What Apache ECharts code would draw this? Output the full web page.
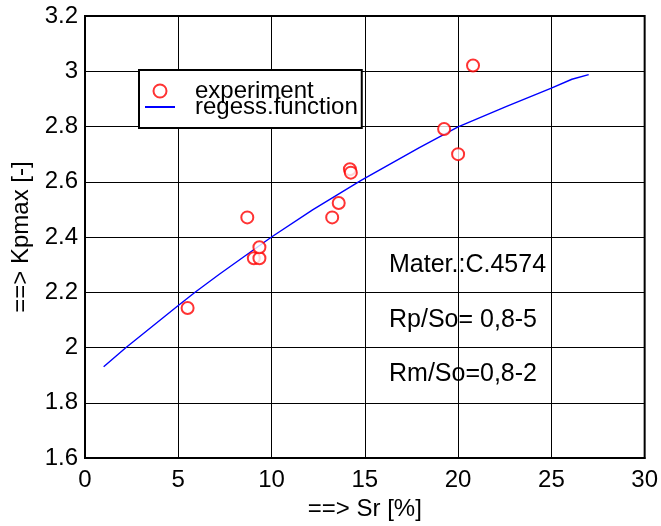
<!DOCTYPE html>
<html>
<head>
<meta charset="utf-8">
<script src="https://cdn.jsdelivr.net/npm/echarts@6/dist/echarts.min.js"></script>
<style>
  html, body { margin: 0; padding: 0; background: #fff; }
  #chart { width: 661px; height: 526px; }
</style>
</head>
<body>
<div id="chart"></div>
<script>
// measured points [Sr %, Kpmax]
var experiment = [
    [5.5, 2.143], [8.7, 2.471], [9.05, 2.323], [9.35, 2.323], [9.35, 2.363],
    [13.25, 2.471], [13.6, 2.523], [14.2, 2.645], [14.25, 2.633],
    [19.25, 2.791], [20.0, 2.70], [20.8, 3.021]
];
// regression curve
var regression = [
    [1.0, 1.930], [2.2, 2.0], [5.0, 2.152], [5.9, 2.2], [7.2, 2.265],
    [10.0, 2.40], [12.2, 2.498], [14.8, 2.605], [17.9, 2.723], [20.0, 2.799],
    [22.6, 2.873], [25.0, 2.939], [26.1, 2.971], [27.0, 2.988]
];
var xRange = [0, 30, 5];
var yRange = [1.6, 3.2, 0.2];
var notes = ['Mater.:C.4574', 'Rp/So= 0,8-5', 'Rm/So=0,8-2'];

var font = "'Liberation Sans', Arial, sans-serif";
var myChart = echarts.init(document.getElementById('chart'));

var option = {
    backgroundColor: '#fff',
    animation: false,
    textStyle: { fontFamily: font },
    grid: {
        left: 85, right: 16, top: 16, bottom: 66,
        show: true, borderColor: '#000', borderWidth: 2
    },
    legend: {
        left: 139, top: 70,
        orient: 'vertical',
        backgroundColor: '#fff',
        borderColor: '#000',
        borderWidth: 2,
        borderRadius: 0,
        padding: [9, 4, 9, 5],
        itemGap: -8,
        itemWidth: 30,
        itemHeight: 13,
        textStyle: { fontSize: 24, color: '#000', fontFamily: font, padding: [0, 0, 0, 15] },
        data: [
            'experiment',
            { name: 'regess.function', itemStyle: { opacity: 0 } }
        ]
    },
    xAxis: {
        type: 'value',
        min: xRange[0], max: xRange[1], interval: xRange[2],
        name: '==> Sr [%]',
        nameLocation: 'middle',
        nameGap: 39,
        nameTextStyle: { fontSize: 24, color: '#000', fontFamily: font },
        axisLine: { show: true, lineStyle: { color: '#000', width: 2 } },
        axisTick: { show: false },
        axisLabel: { fontSize: 24, color: '#000', margin: 10, fontFamily: font },
        splitLine: { show: true, lineStyle: { color: '#000', width: 1 } }
    },
    yAxis: {
        type: 'value',
        min: yRange[0], max: yRange[1], interval: yRange[2],
        name: '==> Kpmax [-]',
        nameLocation: 'middle',
        nameGap: 44,
        nameTextStyle: { fontSize: 24, color: '#000', fontFamily: font },
        axisLine: { show: true, lineStyle: { color: '#000', width: 2 } },
        axisTick: { show: false },
        axisLabel: { fontSize: 24, color: '#000', margin: 7, fontFamily: font },
        splitLine: { show: true, lineStyle: { color: '#000', width: 1 } }
    },
    graphic: notes.map(function (t, i) {
        return {
            type: 'text',
            left: 389,
            top: 253 + i * 54.5,
            z: 10,
            style: { text: t, fontSize: 25, fontFamily: font, fill: '#000' }
        };
    }),
    series: [
        {
            name: 'experiment',
            type: 'scatter',
            symbol: 'emptyCircle',
            symbolSize: 12,
            itemStyle: { color: '#ff0000', borderColor: '#ff0000', borderWidth: 1.5 },
            data: experiment,
            z: 3
        },
        {
            name: 'regess.function',
            type: 'line',
            symbol: 'none',
            smooth: false,
            lineStyle: { color: '#0000ff', width: 1.4 },
            itemStyle: { color: '#0000ff' },
            data: regression,
            z: 2
        }
    ]
};

myChart.setOption(option);
window.addEventListener("resize", function () {
    myChart.resize();
});
</script>
</body>
</html>
